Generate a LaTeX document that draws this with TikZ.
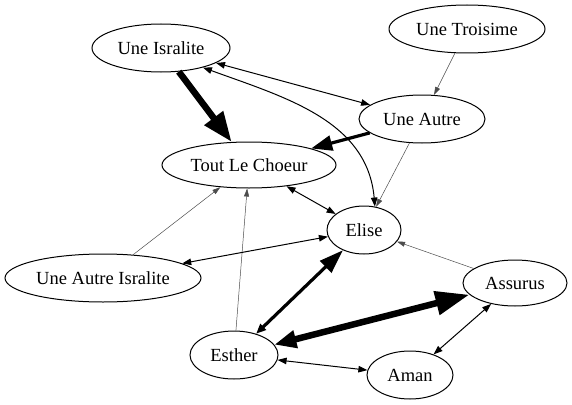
\documentclass[tikz,border=0pt]{standalone}
\usepackage{fontspec}
\setmainfont{Liberation Serif}
\usetikzlibrary{shapes.geometric, arrows.meta}

\begin{document}
\begin{tikzpicture}[x=1pt, y=-1pt, font=\fontsize{18.5}{22}\selectfont,
  role/.style={draw, ellipse, line width=1pt, inner sep=0pt, minimum height=48pt},
  weak/.style={draw=black!70, line width=0.5pt, -{Triangle[length=8pt,width=5pt]}},
  lnk/.style={line width=1pt, {Triangle[length=9pt,width=6.5pt]}-{Triangle[length=9pt,width=6.5pt]}},
  strong/.style={line width=3.2pt},
  heavy/.style={line width=6.5pt}]
\useasboundingbox (0,0) rectangle (572,404);
% characters
\node[role, minimum width=138pt] (isr) at (161,48) {Une Isralite};
\node[role, minimum width=156pt] (troi) at (467,29) {Une Troisime};
\node[role, minimum width=126pt] (autre) at (422,119) {Une Autre};
\node[role, minimum width=174pt, minimum height=46pt] (choeur) at (249,165) {Tout Le Choeur};
\node[role, minimum width=74pt] (elise) at (364,230) {Elise};
\node[role, minimum width=196pt] (aisr) at (103,278) {Une Autre Isralite};
\node[role, minimum width=88pt] (esther) at (234,355) {Esther};
\node[role, minimum width=104pt, minimum height=46pt] (assurus) at (515,283) {Assurus};
\node[role, minimum width=86pt] (aman) at (410,375) {Aman};
% one-way lines
\draw[weak] (troi) -- (autre);
\draw[weak] (autre) -- (elise);
\draw[weak] (aisr) -- (choeur);
\draw[weak] (esther) -- (choeur);
\draw[weak] (assurus) -- (elise);
\draw[heavy, -{Triangle[length=30pt,width=22pt]}] (isr) -- (choeur);
\draw[strong, -{Triangle[length=21pt,width=15pt]}] (autre) -- (choeur);
% two-way lines
\draw[lnk] (isr) -- (autre);
\draw[lnk] (isr.-25) to[out=-20, in=95] (elise.65);
\draw[lnk] (choeur) -- (elise);
\draw[lnk] (aisr) -- (elise);
\draw[lnk] (assurus) -- (aman);
\draw[lnk] (esther) -- (aman);
\draw[strong, {Triangle[length=10pt,width=8pt]}-{Triangle[length=24pt,width=16pt]}] (esther) -- (elise);
\draw[heavy, {Triangle[length=22pt,width=17pt]}-{Triangle[length=34pt,width=23pt]}] (esther) -- (assurus);
\end{tikzpicture}
\end{document}
